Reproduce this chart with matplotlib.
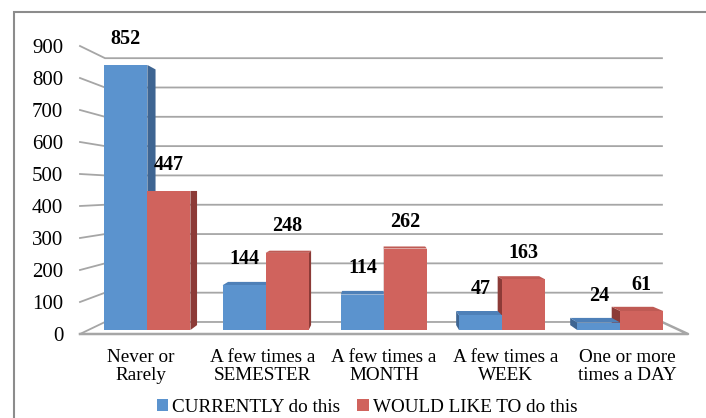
import matplotlib
matplotlib.use("Agg")
import matplotlib.pyplot as plt
from matplotlib.patches import Polygon, Patch, Rectangle

plt.rcParams['font.family'] = ['Liberation Serif', 'DejaVu Serif']

# data
categories = ["Never or\nRarely", "A few times a\nSEMESTER", "A few times a\nMONTH",
              "A few times a\nWEEK", "One or more\ntimes a DAY"]
currently = [852, 144, 114, 47, 24]
would_like = [447, 248, 262, 163, 61]
series_names = ["CURRENTLY do this", "WOULD LIKE TO do this"]

# colours: front, side, top
blue = ("#5B93CE", "#3E6592", "#4E80B8")
red = ("#D0635D", "#8C3B37", "#BF5A54")

# fake perspective (Excel 3D column look)
VX, VY = 2.45, 447.0   # vanishing point in data units
T = 0.084              # shrink from front plane to back wall
Z0, Z1 = 0.33, 0.74    # bar depth range
BW = 0.364             # bar width
FS = 13.8


def proj(x, v, z):
    k = T * z
    return (x + (VX - x) * k, v + (VY - v) * k)


fig = plt.figure(figsize=(7.06, 4.18), dpi=100)
ax = fig.add_axes([80 / 706, (418 - 334) / 418, 608 / 706, 288 / 418])
ax.set_xlim(0, 5)
ax.set_ylim(0, 900)
for s in ax.spines.values():
    s.set_visible(False)

grid_c = "#A6A6A6"
ncat = len(categories)
# back wall gridlines + left wall lines
for v in range(0, 901, 100):
    p0 = proj(0, v, 0)
    p1 = proj(0, v, 1)
    p2 = proj(ncat, v, 1)
    ax.plot([p0[0], p1[0], p2[0]], [p0[1], p1[1], p2[1]], color=grid_c, lw=1.3,
            clip_on=False, zorder=1, solid_joinstyle='miter')
# floor front and right edge
f = [proj(0, 0, 0), proj(ncat, 0, 0), proj(ncat, 0, 1)]
ax.plot([p[0] for p in f], [p[1] for p in f], color=grid_c, lw=1.8, clip_on=False, zorder=1)

# bars
bars = []
for i in range(ncat):
    c = i + 0.5
    bars.append((c - BW, c, currently[i], blue))
    bars.append((c, c + BW, would_like[i], red))
bars.sort(key=lambda b: -abs((b[0] + b[1]) / 2 - VX))

for a, b, v, col in bars:
    if b < VX:
        side = [proj(b, 0, Z0), proj(b, 0, Z1), proj(b, v, Z1), proj(b, v, Z0)]
        ax.add_patch(Polygon(side, closed=True, fc=col[1], ec='none', zorder=2, clip_on=False))
    elif a > VX:
        side = [proj(a, 0, Z0), proj(a, 0, Z1), proj(a, v, Z1), proj(a, v, Z0)]
        ax.add_patch(Polygon(side, closed=True, fc=col[1], ec='none', zorder=2, clip_on=False))
    if v < VY:
        top = [proj(a, v, Z0), proj(b, v, Z0), proj(b, v, Z1), proj(a, v, Z1)]
        ax.add_patch(Polygon(top, closed=True, fc=col[2], ec='none', zorder=2, clip_on=False))
    front = [proj(a, 0, Z0), proj(b, 0, Z0), proj(b, v, Z0), proj(a, v, Z0)]
    ax.add_patch(Polygon(front, closed=True, fc=col[0], ec='none', zorder=2, clip_on=False))

# value labels
for i in range(ncat):
    c = i + 0.5
    for x, v in ((c - BW / 2, currently[i]), (c + BW / 2, would_like[i])):
        px, py = proj(x, v, Z0)
        ax.annotate(str(v), (px, py), xytext=(0, 19), textcoords='offset points',
                    ha='center', va='center', fontsize=14.5, fontweight='bold',
                    zorder=5, annotation_clip=False)

ax.set_yticks(range(0, 901, 100))
ax.set_yticklabels([str(v) for v in range(0, 901, 100)], fontsize=15)
ax.set_xticks([i + 0.5 for i in range(ncat)])
ax.set_xticklabels(categories, fontsize=FS)
for lbl in ax.get_xticklabels():
    lbl.set_linespacing(1.08)
ax.tick_params(axis='y', length=0, pad=12)
ax.tick_params(axis='x', length=0, pad=11)
ax.set_facecolor('none')

handles = [Patch(fc=blue[0], ec='none'), Patch(fc=red[0], ec='none')]
fig.legend(handles, series_names, loc='center', bbox_to_anchor=(367 / 706, 11 / 418),
           ncol=2, frameon=False, fontsize=FS, handlelength=0.6, handleheight=0.6,
           handletextpad=0.2, columnspacing=0.9, borderaxespad=0, borderpad=0)

# outer chart border (only left and top are in frame)
fig.patches.append(Rectangle((14 / 706, -0.2), 1.2, 0.2 + (418 - 12) / 418,
                             transform=fig.transFigure, fill=False, ec="#8C8C8C", lw=1.5))

fig.savefig("out.png", dpi=100)
